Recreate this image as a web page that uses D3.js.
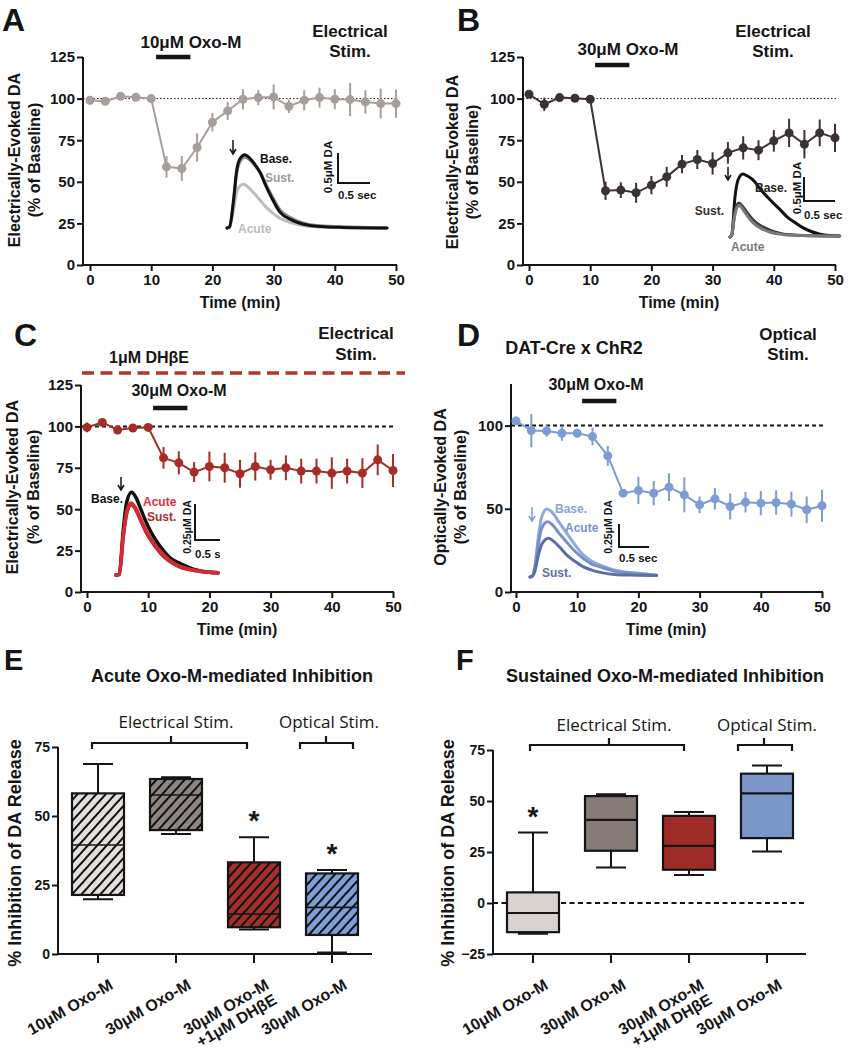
<!DOCTYPE html>
<html>
<head>
<meta charset="utf-8">
<script src="https://cdn.jsdelivr.net/npm/d3@7"></script>
<style>
  body { margin: 0; background: #fff; }
  svg { font-family: "Liberation Sans", Arial, sans-serif; }
</style>
</head>
<body>
<svg width="853" height="1050"></svg>
<script>
// ---- time course data (% of baseline, mean and SEM) ----
const times = [0, 2.5, 5, 7.5, 10, 12.5, 15, 17.5, 20, 22.5, 25, 27.5, 30, 32.5, 35, 37.5, 40, 42.5, 45, 47.5, 50];
const xTicks = [0, 10, 20, 30, 40, 50];
const drugOn = [10.8, 16.4];

const aMean = [99, 98.4, 101.4, 100.8, 100, 59, 58, 70.6, 85.8, 92.6, 99.6, 100.6, 101, 95.4, 99, 100.6, 99.6, 99.4, 98, 97, 97];
const aErr  = [1, 1, 1, 1, 1, 6.5, 7.5, 8.5, 5.5, 5.5, 6, 4.5, 7.5, 4, 6, 6, 6, 10, 7, 9, 8.5];
const bMean = [102.6, 96.6, 100.6, 100.2, 99.6, 44.6, 45, 43.4, 48, 53, 60.6, 63.4, 61, 67.4, 70.4, 69, 74.6, 79.4, 72.6, 79.4, 76.4];
const bErr  = [1.5, 4, 1, 1, 1, 5.5, 4.7, 6, 5.5, 6, 5.5, 5.7, 6.7, 6.5, 7, 6, 6.5, 8.5, 8.5, 8, 8.5];
const cMean = [99.4, 102.4, 97.8, 99, 99.4, 81, 78, 72.4, 75.8, 75, 71.4, 75.8, 73.8, 75, 73, 73, 71.8, 73, 71.8, 79.8, 73.4];
const cErr  = [3, 1, 1.5, 1, 1, 6.5, 7, 6, 9, 9, 8.5, 8.5, 6, 7.5, 7.5, 7.5, 9.5, 7.5, 9, 9.3, 10];
const dMean = [102.8, 97, 96.8, 95.4, 95.4, 93.4, 81.8, 59.4, 61, 59.4, 63, 58.4, 52.4, 56, 51.4, 54, 53.4, 53.8, 52.8, 49.4, 51.8];
const dErr  = [2.5, 10, 3.5, 4.5, 1, 5.3, 6, 1.5, 8.2, 7.3, 8.3, 10.5, 5, 6.5, 7.8, 6.2, 7.3, 7.3, 7.5, 8, 9.6];

// ---- example traces: [sec, uM] ----
const aBase  = [[0,0],[0.04,0.02],[0.1,0.45],[0.15,0.95],[0.2,1.15],[0.28,1.22],[0.35,1.17],[0.43,1.07],[0.52,0.92],[0.6,0.72],[0.7,0.5],[0.83,0.26],[1.0,0.14],[1.14,0.08],[1.4,0.03],[1.8,0.01],[2.5,0]];
const aSust  = [[0,0],[0.04,0.02],[0.1,0.4],[0.15,0.9],[0.2,1.1],[0.28,1.18],[0.35,1.14],[0.43,1.05],[0.52,0.92],[0.6,0.75],[0.7,0.54],[0.83,0.3],[1.0,0.17],[1.14,0.1],[1.4,0.04],[1.8,0.02],[2.5,0]];
const aAcute = [[0,0],[0.04,0.02],[0.1,0.3],[0.15,0.6],[0.2,0.7],[0.26,0.73],[0.33,0.68],[0.43,0.57],[0.52,0.46],[0.6,0.36],[0.7,0.26],[0.83,0.16],[1.0,0.09],[1.14,0.05],[1.4,0.02],[1.8,0.01],[2.5,0]];
const bBase  = [[0,0],[0.03,0.05],[0.08,0.83],[0.14,1.22],[0.21,1.31],[0.28,1.27],[0.37,1.19],[0.5,0.98],[0.65,0.77],[0.8,0.58],[0.92,0.42],[1.05,0.3],[1.18,0.19],[1.3,0.12],[1.45,0.06],[1.6,0.03],[1.77,0.02]];
const bSust  = [[0,0],[0.03,0.05],[0.07,0.45],[0.11,0.66],[0.145,0.71],[0.2,0.64],[0.28,0.5],[0.37,0.36],[0.5,0.23],[0.65,0.14],[0.8,0.08],[0.92,0.05],[1.18,0.03],[1.77,0.02]];
const bAcute = [[0,0],[0.03,0.05],[0.07,0.4],[0.11,0.61],[0.15,0.66],[0.2,0.59],[0.28,0.44],[0.37,0.3],[0.5,0.18],[0.65,0.1],[0.8,0.06],[0.92,0.04],[1.18,0.03],[1.77,0.02]];
const cBase  = [[0,0],[0.055,0.005],[0.12,0.31],[0.18,0.51],[0.26,0.574],[0.33,0.54],[0.42,0.45],[0.51,0.36],[0.65,0.25],[0.79,0.17],[0.93,0.11],[1.07,0.08],[1.34,0.035],[1.7,0.015]];
const cAcute = [[0,0],[0.055,0.005],[0.12,0.27],[0.18,0.44],[0.25,0.5],[0.32,0.47],[0.42,0.38],[0.51,0.3],[0.65,0.21],[0.79,0.14],[0.93,0.09],[1.07,0.06],[1.34,0.03],[1.7,0.015]];
const cSust  = [[0,0],[0.055,0.005],[0.12,0.26],[0.18,0.43],[0.25,0.49],[0.32,0.46],[0.42,0.37],[0.51,0.29],[0.65,0.2],[0.79,0.13],[0.93,0.085],[1.07,0.055],[1.34,0.03],[1.7,0.015]];
const dBase  = [[0,0],[0.04,0.01],[0.08,0.11],[0.14,0.44],[0.19,0.64],[0.28,0.74],[0.36,0.71],[0.48,0.6],[0.61,0.48],[0.75,0.35],[0.89,0.24],[1.03,0.17],[1.17,0.13],[1.44,0.07],[1.8,0.04],[2.11,0.02]];
const dAcute = [[0,0],[0.04,0.01],[0.08,0.09],[0.14,0.36],[0.19,0.52],[0.29,0.6],[0.37,0.57],[0.48,0.48],[0.61,0.38],[0.75,0.28],[0.89,0.2],[1.03,0.14],[1.17,0.11],[1.44,0.06],[1.8,0.035],[2.11,0.02]];
const dSust  = [[0,0],[0.04,0.01],[0.08,0.06],[0.14,0.24],[0.2,0.36],[0.31,0.42],[0.39,0.39],[0.5,0.32],[0.61,0.24],[0.75,0.17],[0.89,0.11],[1.03,0.075],[1.17,0.05],[1.44,0.025],[1.8,0.02],[2.11,0.015]];

// ---- box plots: [min, q1, median, q3, max] ----
const groups = ["g10", "g30", "g30dh", "g30opt"];
const groupLabels = [["10μM Oxo-M"], ["30μM Oxo-M"], ["30μM Oxo-M", "+1μM DHβE"], ["30μM Oxo-M"]];
const acuteStats = [[19.8, 21.4, 39.5, 58.2, 68.8], [43.5, 44.9, 57.6, 63.4, 64], [8.9, 9.7, 14.5, 33.2, 42.3], [0.5, 6.9, 16.9, 29.2, 30.4]];
const sustStats  = [[-15.1, -14.3, -4.9, 5.2, 34.5], [17.4, 25.6, 40.7, 52.4, 53.3], [13.7, 16.3, 28, 42.7, 44.6], [25.2, 31.8, 53.7, 63.4, 67.4]];
const acuteSig = [false, false, true, true];
const sustSig  = [true, false, false, false];

const svg = d3.select("svg");
const INK = "#151515";

function txt(g, s, x, y, o = {}) {
  const t = g.append("text")
    .attr("text-anchor", o.anchor || "middle")
    .attr("font-size", o.size || 16)
    .attr("font-weight", o.weight || "bold")
    .attr("font-family", o.family || null)
    .attr("fill", o.fill || INK)
    .text(s);
  if (o.rot) t.attr("transform", `translate(${x},${y}) rotate(${o.rot})`);
  else t.attr("x", x).attr("y", y);
  return t;
}

function styleAxis(sel, size) {
  sel.select(".domain").remove();
  sel.selectAll(".tick line").attr("stroke", INK).attr("stroke-width", 2);
  sel.selectAll(".tick text").attr("fill", INK).attr("font-size", size)
    .attr("font-weight", "bold").attr("font-family", null);
}

// ---------- time course panels ----------
function timePanel(o) {
  const g = svg.append("g");
  const x = d3.scaleLinear().domain([0, 50]).range(o.xr);
  const y = d3.scaleLinear().domain([0, 125]).range(o.yr);

  g.append("g").attr("transform", `translate(${o.ax},0)`)
    .call(d3.axisLeft(y).tickValues(o.yTicks).tickSize(6).tickPadding(2))
    .call(s => styleAxis(s, 15));
  g.append("g").attr("transform", `translate(0,${y(0)})`)
    .call(d3.axisBottom(x).tickValues(xTicks).tickSize(6).tickPadding(3))
    .call(s => styleAxis(s, 15));
  g.append("path")
    .attr("d", `M${o.ax},${y(125)}V${y(0)}H${x(50) + 1}`)
    .attr("fill", "none").attr("stroke", INK).attr("stroke-width", 2);

  g.append("line")
    .attr("x1", o.ax).attr("x2", x(50) + 1).attr("y1", y(100)).attr("y2", y(100))
    .attr("stroke", INK).attr("stroke-width", o.refW).attr("stroke-dasharray", o.refDash);

  g.append("line")
    .attr("x1", x(drugOn[0])).attr("x2", x(drugOn[1]))
    .attr("y1", o.barY).attr("y2", o.barY)
    .attr("stroke", INK).attr("stroke-width", 4.5);

  const pts = times.map((t, i) => ({ t, m: o.mean[i], e: o.err[i] }));
  g.append("path").datum(pts)
    .attr("d", d3.line().x(d => x(d.t)).y(d => y(d.m)))
    .attr("fill", "none").attr("stroke", o.color).attr("stroke-width", 2);
  g.selectAll(".eb").data(pts).join("line").attr("class", "eb")
    .attr("x1", d => x(d.t)).attr("x2", d => x(d.t))
    .attr("y1", d => y(d.m - d.e)).attr("y2", d => y(d.m + d.e))
    .attr("stroke", o.color).attr("stroke-width", 2);
  g.selectAll(".pt").data(pts).join("circle").attr("class", "pt")
    .attr("cx", d => x(d.t)).attr("cy", d => y(d.m)).attr("r", 4.5)
    .attr("fill", o.color);

  txt(g, "Time (min)", (o.xr[0] + o.xr[1]) / 2 - 3, o.timeY, { size: 16 });
  txt(g, o.yLab[0], o.yLabX[0], o.yLabY, { size: 16, rot: -90 });
  txt(g, o.yLab[1], o.yLabX[1], o.yLabY, { size: 16, rot: -90 });
  return g;
}

// ---------- inset traces ----------
function inset(g, o) {
  const ig = g.append("g");
  if (o.clip) {
    svg.append("clipPath").attr("id", o.clip.id).append("rect")
      .attr("x", o.clip.x).attr("y", o.clip.y).attr("width", o.clip.w).attr("height", o.clip.h);
    ig.attr("clip-path", `url(#${o.clip.id})`);
  }
  const ts = d3.scaleLinear().domain([0, 1]).range([o.x0, o.x0 + o.pps]);
  const cs = d3.scaleLinear().domain([0, 1]).range([o.y0, o.y0 - o.ppu]);
  const line = d3.line().x(d => ts(d[0])).y(d => cs(d[1])).curve(d3.curveMonotoneX);
  o.traces.forEach(tr => {
    ig.append("path").datum(tr.data).attr("d", line)
      .attr("fill", "none").attr("stroke", tr.color).attr("stroke-width", o.w || 3)
      .attr("stroke-linejoin", "round").attr("stroke-linecap", "round");
  });
  o.labels.forEach(l => txt(ig, l.s, l.x, l.y, { size: 12, anchor: l.anchor || "start", fill: l.fill }));

  // stimulus arrow
  const ar = o.arrow;
  ig.append("path")
    .attr("d", `M${ar.x},${ar.y1}V${ar.y2}M${ar.x - 3},${ar.y2 - 5}L${ar.x},${ar.y2}L${ar.x + 3},${ar.y2 - 5}`)
    .attr("fill", "none").attr("stroke", ar.color || INK).attr("stroke-width", 1.5);

  // scale bar
  const sb = o.bar;
  const xEnd = ts(sb.sec) - ts(0) + sb.x;
  const yTop = sb.y - (cs(0) - cs(sb.um));
  ig.append("path").attr("d", `M${sb.x},${yTop}V${sb.y}H${xEnd}`)
    .attr("fill", "none").attr("stroke", INK).attr("stroke-width", 2);
  txt(ig, sb.umLabel, sb.umX, sb.umY, { size: sb.umSize, rot: -90 });
  txt(ig, sb.secLabel, sb.x, sb.secY, { size: 11.5, anchor: "start" });
}

// ---------- panel A ----------
const gA = timePanel({
  xr: [90, 396], yr: [265, 57], ax: 83, yTicks: [0, 25, 50, 75, 100, 125],
  mean: aMean, err: aErr, color: "#a79e9b", refW: 1, refDash: "1.5,2", barY: 57,
  timeY: 308, yLab: ["Electrically-Evoked DA", "(% of Baseline)"], yLabX: [20, 40], yLabY: 160
});
txt(gA, "A", 2, 31, { size: 32, anchor: "start" });
txt(gA, "10μM Oxo-M", 191, 48, { size: 17 });
txt(gA, "Electrical", 350, 37, { size: 17 });
txt(gA, "Stim.", 350, 57, { size: 17 });
inset(gA, {
  x0: 227, y0: 228, pps: 64, ppu: 60, w: 3,
  traces: [{ data: aAcute, color: "#bdbdbd" }, { data: aSust, color: "#8e8e8e" }, { data: aBase, color: "#111" }],
  labels: [{ s: "Base.", x: 260, y: 163, fill: "#111" }, { s: "Sust.", x: 265, y: 182, fill: "#9a9a9a" }, { s: "Acute", x: 238, y: 233, fill: "#bcbcbc" }],
  arrow: { x: 233, y1: 140, y2: 154 },
  bar: { x: 338, y: 183, sec: 0.5, um: 0.5, umLabel: "0.5μM DA", umX: 332, umY: 167, umSize: 11.5, secLabel: "0.5 sec", secY: 199 }
});

// ---------- panel B ----------
const gB = timePanel({
  xr: [529, 835], yr: [265, 57], ax: 523, yTicks: [0, 25, 50, 75, 100, 125],
  mean: bMean, err: bErr, color: "#3b3331", refW: 1, refDash: "1.5,2", barY: 65,
  timeY: 308, yLab: ["Electrically-Evoked DA", "(% of Baseline)"], yLabX: [458, 478], yLabY: 162
});
txt(gB, "B", 457, 31, { size: 32, anchor: "start" });
txt(gB, "30μM Oxo-M", 628, 55, { size: 17 });
txt(gB, "Electrical", 773, 37, { size: 17 });
txt(gB, "Stim.", 773, 57, { size: 17 });
inset(gB, {
  x0: 730, y0: 237, pps: 62, ppu: 48, w: 3,
  traces: [{ data: bBase, color: "#111" }, { data: bSust, color: "#3e3e3e" }, { data: bAcute, color: "#7a7a7a" }],
  labels: [{ s: "Base.", x: 755, y: 192, fill: "#222" }, { s: "Sust.", x: 724, y: 215, fill: "#333", anchor: "end" }, { s: "Acute", x: 731, y: 251, fill: "#7a7a7a" }],
  arrow: { x: 728, y1: 167, y2: 180 },
  bar: { x: 804, y: 201, sec: 0.5, um: 0.5, umLabel: "0.5μM DA", umX: 801, umY: 188, umSize: 11.5, secLabel: "0.5 sec", secY: 219 }
});

// ---------- panel C ----------
const gC = timePanel({
  xr: [87, 393], yr: [592, 385], ax: 81, yTicks: [0, 25, 50, 75, 100, 125],
  mean: cMean, err: cErr, color: "#a52d28", refW: 2, refDash: "4,3", barY: 408,
  timeY: 635, yLab: ["Electrically-Evoked DA", "(% of Baseline)"], yLabX: [18, 39], yLabY: 487
});
txt(gC, "C", 14, 346, { size: 32, anchor: "start" });
txt(gC, "1μM DHβE", 149, 363, { size: 16 });
gC.append("line").attr("x1", 82).attr("x2", 405).attr("y1", 373).attr("y2", 373)
  .attr("stroke", "#b3332d").attr("stroke-width", 3.5).attr("stroke-dasharray", "12,6.5");
txt(gC, "Electrical", 356, 339, { size: 17 });
txt(gC, "Stim.", 356, 360, { size: 17 });
txt(gC, "30μM Oxo-M", 179, 396, { size: 16 });
inset(gC, {
  x0: 116, y0: 575, pps: 60, ppu: 144, w: 3.5,
  clip: { id: "clipC", x: 85, y: 470, w: 135, h: 115 },
  traces: [{ data: cBase, color: "#111" }, { data: cSust, color: "#a52a2a" }, { data: cAcute, color: "#d42a32" }],
  labels: [{ s: "Base.", x: 123, y: 503, fill: "#111", anchor: "end" }, { s: "Acute", x: 143, y: 506, fill: "#e0313c" }, { s: "Sust.", x: 147, y: 521, fill: "#b02a2a" }],
  arrow: { x: 121, y1: 477, y2: 490 },
  bar: { x: 195, y: 540, sec: 0.5, um: 0.25, umLabel: "0.25μM DA", umX: 191, umY: 527, umSize: 10.5, secLabel: "0.5 sec", secY: 558 }
});

// ---------- panel D ----------
const gD = timePanel({
  xr: [516, 822], yr: [592, 384], ax: 511, yTicks: [0, 50, 100],
  mean: dMean, err: dErr, color: "#7c9cd3", refW: 2, refDash: "4,3", barY: 401,
  timeY: 635, yLab: ["Optically-Evoked DA", "(% of Baseline)"], yLabX: [446, 466], yLabY: 487
});
txt(gD, "D", 457, 346, { size: 32, anchor: "start" });
txt(gD, "DAT-Cre x ChR2", 574, 354, { size: 18 });
txt(gD, "Optical", 788, 340, { size: 17 });
txt(gD, "Stim.", 788, 360, { size: 17 });
txt(gD, "30μM Oxo-M", 596, 390, { size: 16 });
inset(gD, {
  x0: 530, y0: 577, pps: 60, ppu: 92, w: 3,
  traces: [{ data: dBase, color: "#8ea9dc" }, { data: dAcute, color: "#7790cb" }, { data: dSust, color: "#5c6ea6" }],
  labels: [{ s: "Base.", x: 555, y: 513, fill: "#8aa4d8" }, { s: "Acute", x: 565, y: 532, fill: "#7a90c9" }, { s: "Sust.", x: 542, y: 577, fill: "#5e6fa5" }],
  arrow: { x: 532, y1: 507, y2: 521, color: "#7c9cd3" },
  bar: { x: 619, y: 547, sec: 0.5, um: 0.25, umLabel: "0.25μM DA", umX: 612, umY: 527, umSize: 10.5, secLabel: "0.5 sec", secY: 562 }
});

// ---------- box plot panels ----------
const defs = svg.append("defs");
defs.append("pattern").attr("id", "hatch").attr("patternUnits", "userSpaceOnUse")
  .attr("width", 7).attr("height", 7).attr("patternTransform", "rotate(42)")
  .append("line").attr("x1", 1).attr("y1", 0).attr("x2", 1).attr("y2", 7)
  .attr("stroke", "#111").attr("stroke-width", 2);

function boxPanel(o) {
  const g = svg.append("g");
  const x = d3.scalePoint().domain(groups).range(o.xr);
  const y = d3.scaleLinear().domain(o.domain).range([954, o.yTop]);
  const bw = 52, cw = 30;

  g.append("g").attr("transform", `translate(${o.ax},0)`)
    .call(d3.axisLeft(y).tickValues(o.yTicks).tickSize(6).tickPadding(2))
    .call(s => styleAxis(s, 14));
  g.append("path").attr("d", `M${o.ax},${y(o.domain[1])}V954H${o.xEnd}`)
    .attr("fill", "none").attr("stroke", INK).attr("stroke-width", 2);
  g.selectAll(".ct").data(groups).join("line").attr("class", "ct")
    .attr("x1", d => x(d)).attr("x2", d => x(d)).attr("y1", 954).attr("y2", 963)
    .attr("stroke", INK).attr("stroke-width", 2);

  if (o.zeroLine) {
    g.append("line").attr("x1", o.ax).attr("x2", o.xEnd).attr("y1", y(0)).attr("y2", y(0))
      .attr("stroke", INK).attr("stroke-width", 2).attr("stroke-dasharray", "5,3.5");
  }

  o.stats.forEach((s, i) => {
    const cx = x(groups[i]);
    const [mn, q1, md, q3, mx] = s;
    g.append("path")
      .attr("d", `M${cx},${y(mx)}V${y(q3)}M${cx},${y(q1)}V${y(mn)}M${cx - cw / 2},${y(mx)}h${cw}M${cx - cw / 2},${y(mn)}h${cw}`)
      .attr("fill", "none").attr("stroke", INK).attr("stroke-width", 2);
    g.append("rect").attr("x", cx - bw / 2).attr("y", y(q3)).attr("width", bw).attr("height", y(q1) - y(q3))
      .attr("fill", o.colors[i]);
    if (o.hatch) {
      g.append("rect").attr("x", cx - bw / 2).attr("y", y(q3)).attr("width", bw).attr("height", y(q1) - y(q3))
        .attr("fill", "url(#hatch)");
    }
    g.append("rect").attr("x", cx - bw / 2).attr("y", y(q3)).attr("width", bw).attr("height", y(q1) - y(q3))
      .attr("fill", "none").attr("stroke", INK).attr("stroke-width", 2.2);
    g.append("line").attr("x1", cx - bw / 2).attr("x2", cx + bw / 2).attr("y1", y(md)).attr("y2", y(md))
      .attr("stroke", INK).attr("stroke-width", o.hatch ? 1.6 : 2.2);
    if (o.sig[i]) txt(g, "*", cx, y(mx) - 22 + 15, { size: 28 });
  });

  groupLabels.forEach((lines, i) => {
    const cx = x(groups[i]);
    lines.forEach((l, j) => {
      txt(g, l, cx + 16 + j * 8, 988 + j * 15, { size: 16, anchor: "end", rot: -30 });
    });
  });

  // group brackets
  o.brackets.forEach(b => {
    g.append("path")
      .attr("d", `M${b.x1},${b.y + 6}V${b.y}H${b.x2}V${b.y + 6}M${b.mid},${b.y}V${b.y - 7}`)
      .attr("fill", "none").attr("stroke", INK).attr("stroke-width", 2.2);
    txt(g, b.label, b.lx, b.ly, { size: 17, weight: "normal", family: "'Open Sans', sans-serif" });
  });

  txt(g, o.title, o.titleX, 682, { size: 18 });
  txt(g, o.letter, o.letterX, 670, { size: 29, anchor: "start" });
  txt(g, "% Inhibition of DA Release", o.yLabX, 853, { size: 18, rot: -90 });
}

boxPanel({
  xr: [98, 332], ax: 58, xEnd: 372, domain: [0, 75], yTop: 747, yTicks: [0, 25, 50, 75],
  stats: acuteStats, sig: acuteSig, hatch: true,
  colors: ["#e4dfdc", "#8e8682", "#a3302a", "#7e9ed6"],
  brackets: [
    { x1: 92, x2: 247, mid: 171, y: 743, label: "Electrical Stim.", lx: 176, ly: 728 },
    { x1: 300, x2: 353, mid: 326, y: 743, label: "Optical Stim.", lx: 329, ly: 728 }
  ],
  title: "Acute Oxo-M-mediated Inhibition", titleX: 232, letter: "E", letterX: 4, yLabX: 21
});

boxPanel({
  xr: [533, 767], ax: 493, xEnd: 806, domain: [-25, 75], yTop: 750, yTicks: [-25, 0, 25, 50, 75],
  stats: sustStats, sig: sustSig, hatch: false, zeroLine: true,
  colors: ["#dad2ce", "#877b77", "#9d2b27", "#7b97c9"],
  brackets: [
    { x1: 530, x2: 684, mid: 609, y: 745, label: "Electrical Stim.", lx: 614, ly: 731 },
    { x1: 738, x2: 792, mid: 764, y: 745, label: "Optical Stim.", lx: 767, ly: 731 }
  ],
  title: "Sustained Oxo-M-mediated Inhibition", titleX: 665, letter: "F", letterX: 456, yLabX: 454
});
</script>
</body>
</html>
